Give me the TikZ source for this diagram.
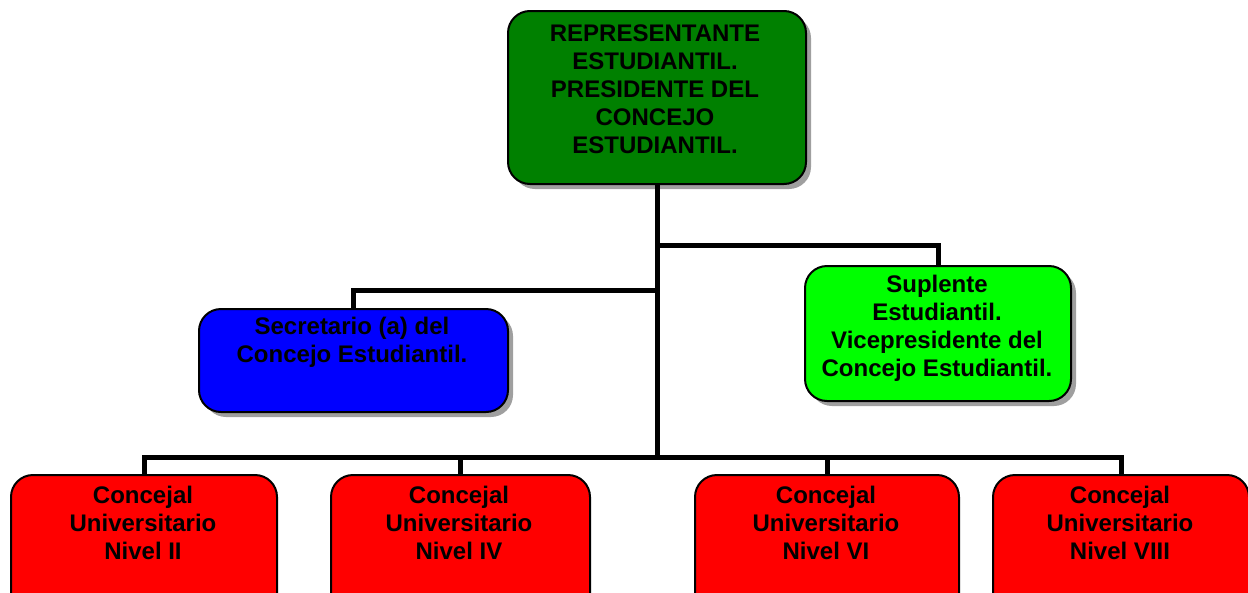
\documentclass[tikz,border=0pt]{standalone}
\usepackage{fontspec}
\setmainfont{Liberation Sans}
\usetikzlibrary{shadows,calc}
\definecolor{darkgreen}{RGB}{0,128,0}
\definecolor{litegreen}{RGB}{0,255,0}
\definecolor{pureblue}{RGB}{0,0,255}
\definecolor{purered}{RGB}{255,0,0}
\tikzset{
  box/.style={draw=black, line width=2pt, rounded corners=22pt, inner sep=0pt, anchor=north west},
  shadowed/.style={drop shadow={shadow xshift=5pt, shadow yshift=-5pt, fill=gray!75, opacity=1}},
  lbl/.style={align=center, inner sep=0pt, font=\fontsize{24}{28}\selectfont\bfseries},
  conn/.style={draw=black, line width=5pt}
}
\begin{document}
\begin{tikzpicture}[x=1pt,y=-1pt]
\useasboundingbox (0,0) rectangle (1248,592);
\clip (0,0) rectangle (1248,592);
% connectors (drawn first)
\coordinate (bus) at (657,457);
\coordinate (j1) at (657,290);
\coordinate (j2) at (657,245);
% boxes
\node[box, shadowed, fill=darkgreen, minimum width=298pt, minimum height=173pt] (top) at (507,10) {};
\node[box, shadowed, fill=pureblue, minimum width=309pt, minimum height=103pt] (sec) at (198,308) {};
\node[box, shadowed, fill=litegreen, minimum width=266pt, minimum height=135pt] (sup) at (804,265) {};
\node[box, fill=purered, minimum width=266pt, minimum height=140pt] (b1) at (10,474) {};
\node[box, fill=purered, minimum width=259pt, minimum height=140pt] (b2) at (330,474) {};
\node[box, fill=purered, minimum width=264pt, minimum height=140pt] (b3) at (694,474) {};
\node[box, fill=purered, minimum width=256pt, minimum height=140pt] (b4) at (992,474) {};
% connectors
\draw[conn] (top.south -| bus) -- (bus);
\draw[conn] (sec.north) |- (j1);
\draw[conn] (sup.north) |- (j2);
\draw[conn] (b1.north) -- ++(0,-17) -| (b4.north);
\draw[conn] (b2.north) -- ++(0,-17);
\draw[conn] (b3.north) -- ++(0,-17);
% texts
\node[lbl] (ttop) at (655,89) {REPRESENTANTE\\ESTUDIANTIL.\\PRESIDENTE DEL\\CONCEJO\\ESTUDIANTIL.};
\node[lbl] (tsec) at (352,342) {Secretario (a) del\\Concejo Estudiantil.};
\node[lbl] (tsup) at (937,328) {Suplente\\Estudiantil.\\Vicepresidente del\\Concejo Estudiantil.};
\node[lbl] (tb1) at (143,523) {Concejal\\Universitario\\Nivel II};
\node[lbl] (tb2) at (459,523) {Concejal\\Universitario\\Nivel IV};
\node[lbl] (tb3) at (826,523) {Concejal\\Universitario\\Nivel VI};
\node[lbl] (tb4) at (1120,523) {Concejal\\Universitario\\Nivel VIII};
\end{tikzpicture}
\end{document}
